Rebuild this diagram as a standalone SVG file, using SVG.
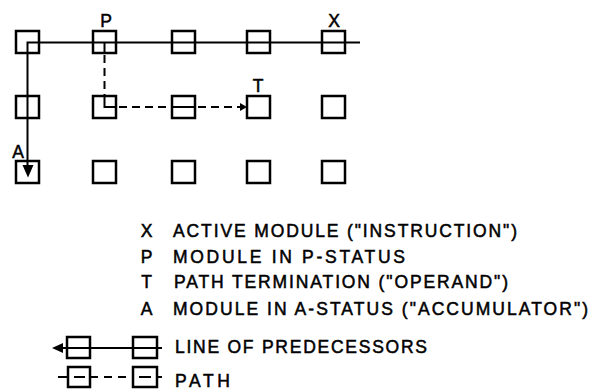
<svg xmlns="http://www.w3.org/2000/svg" width="591" height="392" viewBox="0 0 591 392">
<style>
.box{fill:#fff;stroke:#000;stroke-width:2.5}
.ln{fill:none;stroke:#000;stroke-width:2}
.dash{stroke-dasharray:8 5}
text{font-family:"Liberation Sans",Arial,sans-serif;font-size:17.5px;fill:#000;stroke:#000;stroke-width:0.5}
.lbl{text-anchor:middle}
</style>
<rect width="591" height="392" fill="#fff"/>
<g id="nodes">
<g id="n-r1c1"><rect class="box" x="16" y="31" width="23" height="22"/></g>
<g id="n-r1c2"><rect class="box" x="93" y="31" width="23" height="22"/><text class="lbl" x="106" y="27">P</text></g>
<g id="n-r1c3"><rect class="box" x="172" y="31" width="23" height="22"/></g>
<g id="n-r1c4"><rect class="box" x="247" y="31" width="23" height="22"/></g>
<g id="n-r1c5"><rect class="box" x="322" y="31" width="23" height="22"/><text class="lbl" x="334" y="27">X</text></g>
<g id="n-r2c1"><rect class="box" x="16" y="96" width="23" height="22"/></g>
<g id="n-r2c2"><rect class="box" x="93" y="96" width="23" height="22"/></g>
<g id="n-r2c3"><rect class="box" x="172" y="96" width="23" height="22"/></g>
<g id="n-r2c4"><rect class="box" x="247" y="96" width="23" height="22"/><text class="lbl" x="258" y="92">T</text></g>
<g id="n-r2c5"><rect class="box" x="322" y="96" width="23" height="22"/></g>
<g id="n-r3c1"><rect class="box" x="16" y="161" width="23" height="22"/><text class="lbl" x="18" y="158">A</text></g>
<g id="n-r3c2"><rect class="box" x="93" y="161" width="23" height="22"/></g>
<g id="n-r3c3"><rect class="box" x="172" y="161" width="23" height="22"/></g>
<g id="n-r3c4"><rect class="box" x="247" y="161" width="23" height="22"/></g>
<g id="n-r3c5"><rect class="box" x="322" y="161" width="23" height="22"/></g>
</g>
<g id="connectors">
<path class="ln" d="M360,42.5 H27.5 V167"/>
<polygon points="22.5,165 33.5,165 28,177.5" fill="#000"/>
<path class="ln" d="M104.5,42.5 V53"/>
<path class="ln dash" d="M104.5,55 V96"/>
<path class="ln" d="M104.5,96 V107 H116"/>
<path class="ln dash" d="M119,107 H172"/>
<path class="ln" d="M172,107 H195"/>
<path class="ln dash" d="M198,107 H241"/>
<polygon points="240,103 247,107 240,111" fill="#000"/>
</g>
<g id="legend">
<g id="leg-x"><text x="146.5" y="237" class="lbl">X</text><text x="173" y="237" textLength="344" lengthAdjust="spacing">ACTIVE MODULE ("INSTRUCTION")</text></g>
<g id="leg-p"><text x="146.5" y="263" class="lbl">P</text><text x="173" y="263" textLength="232" lengthAdjust="spacing">MODULE  IN  P-STATUS</text></g>
<g id="leg-t"><text x="146.5" y="288" class="lbl">T</text><text x="174" y="288" textLength="334" lengthAdjust="spacing">PATH TERMINATION ("OPERAND")</text></g>
<g id="leg-a"><text x="146.5" y="315" class="lbl">A</text><text x="173" y="315" textLength="415" lengthAdjust="spacing">MODULE  IN  A-STATUS ("ACCUMULATOR")</text></g>
<g id="leg-line">
<rect class="box" x="67" y="337" width="23" height="21"/>
<rect class="box" x="133" y="337" width="24" height="21"/>
<path class="ln" d="M60,348 H162"/>
<polygon points="52,348 63,343 63,353" fill="#000"/>
<text x="175" y="353" textLength="252" lengthAdjust="spacing">LINE OF PREDECESSORS</text>
</g>
<g id="leg-path">
<rect class="box" x="68" y="367" width="22" height="20"/>
<rect class="box" x="133" y="367" width="24" height="20"/>
<path class="ln" d="M58,377 H68 M74,377 H85 M90,377 H98 M104,377 H112 M118,377 H126 M139,377 H151 M157,377 H162"/>
<text x="175" y="387" textLength="55" lengthAdjust="spacing">PATH</text>
</g>
</g>
</svg>
